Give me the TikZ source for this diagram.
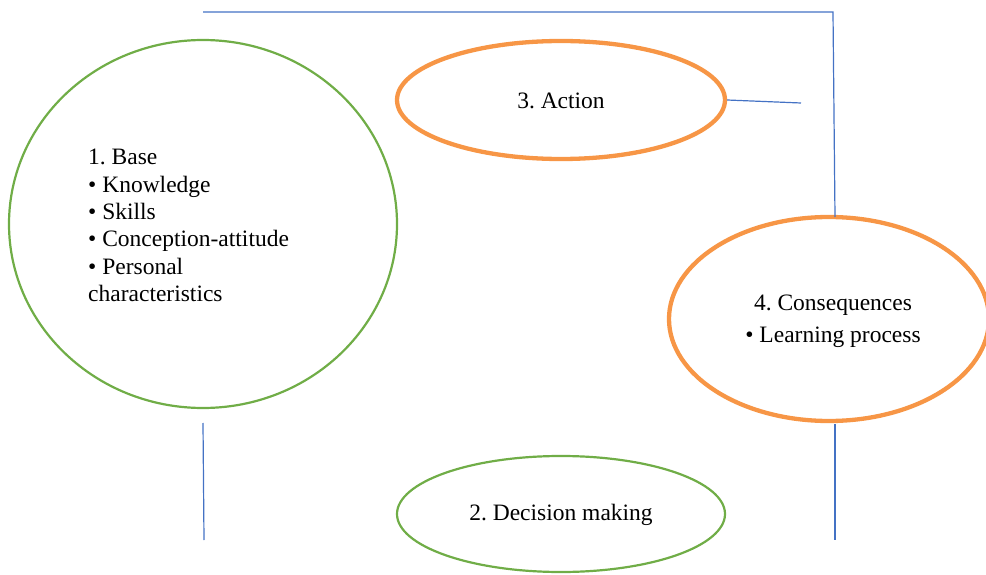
\documentclass[tikz,border=0pt]{standalone}
\usepackage{fontspec}
\setmainfont{Liberation Serif}
\usetikzlibrary{shapes.geometric}
\frenchspacing
\definecolor{cgreen}{HTML}{70AD47}
\definecolor{corange}{HTML}{F79646}
\definecolor{cblue}{HTML}{4472C4}
\tikzset{
  greenell/.style={ellipse, draw=cgreen, line width=2.2pt, inner sep=0pt},
  orangeell/.style={ellipse, draw=corange, line width=4.3pt, inner sep=0pt},
  conn/.style={draw=cblue, line width=1.2pt},
  txt/.style={font=\fontsize{23.5}{27.4}\selectfont, inner sep=0pt},
}
\begin{document}
\begin{tikzpicture}[x=1pt,y=-1pt]
\useasboundingbox (0,0) rectangle (986,575);
\clip (0,0) rectangle (986,575);
% ellipses
\node[greenell, minimum width=388pt, minimum height=368pt] (base) at (203,224) {};
\node[orangeell, minimum width=328pt, minimum height=118pt] (action) at (561,100) {};
\node[orangeell, minimum width=320pt, minimum height=204pt] (cons) at (829,319) {};
\node[greenell, minimum width=328pt, minimum height=116pt] (decision) at (561,514) {};
% texts
\node[txt, align=left, anchor=north west] (basetxt) at (88,149) {1. Base\\ \textbullet\ Knowledge\\ \textbullet\ Skills\\ \textbullet\ Conception-attitude\\ \textbullet\ Personal\\ characteristics};
\node[txt] (actiontxt) at (561,101) {3. Action};
\node[txt, align=center, font=\fontsize{23.5}{32}\selectfont] (constxt) at (833,321) {4. Consequences\\ \textbullet\ Learning process};
\node[txt] (decisiontxt) at (561,515) {2. Decision making};
% connector ends
\coordinate (t1) at (203,12);
\coordinate (t2) at (833,12);
\coordinate (ctop) at (835,217);
\coordinate (aend) at (801,103);
\coordinate (bstart) at (203,423);
\coordinate (bend) at (204,540);
\coordinate (cstart) at (835,424);
\coordinate (cend) at (835,540);
% connectors
\draw[conn] (t1) -- (t2) -- (ctop);
\draw[conn] (action.east) -- (aend);
\draw[conn] (bstart) -- (bend);
\draw[conn] (cstart) -- (cend);
\end{tikzpicture}
\end{document}
